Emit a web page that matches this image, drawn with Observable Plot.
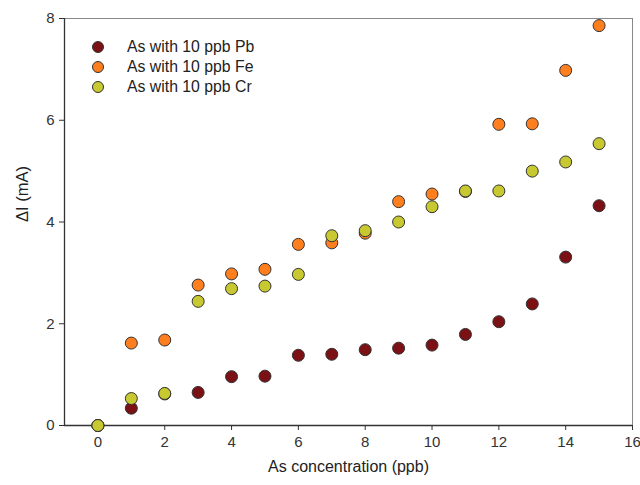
<!DOCTYPE html>
<html>
<head>
<meta charset="utf-8">
<script src="https://cdn.jsdelivr.net/npm/d3@7"></script>
<script src="https://cdn.jsdelivr.net/npm/@observablehq/plot@0.6"></script>
<style>
  html, body { margin: 0; padding: 0; background: #fff; }
  #wrap { position: relative; width: 640px; height: 485px; font-family: "Liberation Sans", Arial, sans-serif; }
  #legend { position: absolute; left: 92px; top: 37px; font-size: 15.8px; color: #222; }
  .row { display: flex; align-items: center; height: 20px; }
  .sw { width: 12px; height: 12px; border-radius: 50%; border: 1px solid #333; box-sizing: border-box; margin-right: 23px; }
</style>
</head>
<body>
<div id="wrap"><div id="legend"></div></div>
<script>
const concentration = [0, 1, 2, 3, 4, 5, 6, 7, 8, 9, 10, 11, 12, 13, 14, 15];
const seriesNames = ["As with 10 ppb Pb", "As with 10 ppb Fe", "As with 10 ppb Cr"];
const seriesColors = ["#7b1114", "#ff7f1e", "#c8c830"];
const pbValues = [0, 0.34, 0.62, 0.65, 0.96, 0.97, 1.38, 1.40, 1.49, 1.52, 1.58, 1.79, 2.04, 2.39, 3.31, 4.32];
const feValues = [0, 1.62, 1.68, 2.76, 2.98, 3.07, 3.56, 3.59, 3.78, 4.40, 4.55, 4.60, 5.92, 5.93, 6.98, 7.86];
const crValues = [0, 0.53, 0.63, 2.44, 2.69, 2.74, 2.97, 3.73, 3.83, 4.00, 4.30, 4.61, 4.61, 5.00, 5.18, 5.54];
const xTicks = [0, 2, 4, 6, 8, 10, 12, 14, 16];
const yTicks = [0, 2, 4, 6, 8];

const allSeries = [pbValues, feValues, crValues];
const data = [];
allSeries.forEach((vals, s) => {
  vals.forEach((v, i) => data.push({ x: concentration[i], y: v, series: seriesNames[s] }));
});

const plot = Plot.plot({
  width: 640,
  height: 485,
  marginLeft: 64,
  marginRight: 8,
  marginTop: 18,
  marginBottom: 60,
  style: { fontFamily: "Liberation Sans, Arial, sans-serif", fontSize: "15px", color: "#333", background: "#fff", overflow: "visible" },
  x: { domain: [-1, 16], ticks: xTicks, tickSize: 5, tickPadding: 6, label: null },
  y: { domain: [0, 8], ticks: yTicks, tickSize: 5, tickPadding: 5, label: null },
  color: { domain: seriesNames, range: seriesColors },
  marks: [
    Plot.frame({ stroke: "#888", strokeWidth: 1 }),
    Plot.axisX({ ticks: xTicks, tickSize: 5, tickPadding: 6, stroke: "#333", fill: "#333", label: null }),
    Plot.axisY({ ticks: yTicks, tickSize: 5, tickPadding: 5, stroke: "#333", fill: "#333", label: null }),
    Plot.ruleX([-1], { stroke: "#333", strokeWidth: 1.3 }),
    Plot.ruleY([0], { stroke: "#333", strokeWidth: 1.3 }),
    Plot.dot(data, { x: "x", y: "y", fill: "series", stroke: "#333", strokeWidth: 1, r: 6 }),
    Plot.text(["As concentration (ppb)"], { frameAnchor: "bottom", dy: 46, text: d => d, fontSize: 16, fill: "#222" }),
    Plot.text(["ΔI (mA)"], { frameAnchor: "left", dx: -42, rotate: -90, text: d => d, fontSize: 16.5, fill: "#222" })
  ]
});
document.getElementById("wrap").prepend(plot);

const legend = document.getElementById("legend");
seriesNames.forEach((name, i) => {
  const row = document.createElement("div");
  row.className = "row";
  const sw = document.createElement("span");
  sw.className = "sw";
  sw.style.background = seriesColors[i];
  const label = document.createElement("span");
  label.textContent = name;
  row.append(sw, label);
  legend.append(row);
});
</script>
</body>
</html>
